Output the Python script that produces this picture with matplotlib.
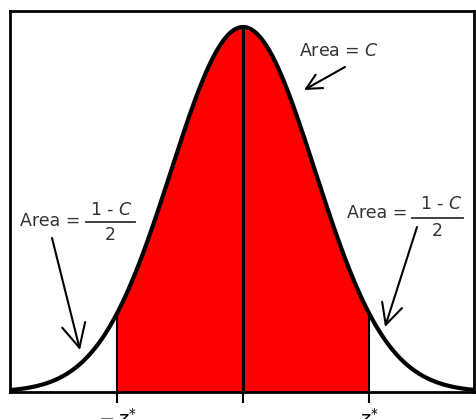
import numpy as np
import matplotlib
matplotlib.use("Agg")
import matplotlib.pyplot as plt

# normal curve parameters
MEAN = 0.0
SD = 1.0
ZSTAR = 1.75
X_RANGE = (-3.24, 3.21)
TICK_POS = [-ZSTAR, 0.0, ZSTAR]
TICK_LABELS = [r"$-\,z^{*}$", "", r"$z^{*}$"]


def pdf(x):
    return np.exp(-0.5 * ((x - MEAN) / SD) ** 2) / (SD * np.sqrt(2 * np.pi))


W, H = 476, 419
fig = plt.figure(figsize=(W / 100, H / 100), dpi=100)
ax = fig.add_axes([10 / W, 27 / H, 464 / W, 381 / H])

z = np.linspace(X_RANGE[0], X_RANGE[1], 800)
zi = np.linspace(-ZSTAR, ZSTAR, 400)

ax.fill_between(zi, 0, pdf(zi), color="#ff0000", lw=0)
ax.plot(z, pdf(z), color="black", lw=3)
ax.vlines([-ZSTAR, ZSTAR], 0, pdf(ZSTAR), color="black", lw=1.5)
ax.vlines(MEAN, 0, pdf(MEAN), color="black", lw=2.2)

ax.set_xlim(*X_RANGE)
ax.set_ylim(0, pdf(MEAN) / 0.958)
for s in ax.spines.values():
    s.set_linewidth(2)
ax.set_yticks([])
ax.set_xticks(TICK_POS)
ax.set_xticklabels(TICK_LABELS)
ax.tick_params(axis="x", direction="out", length=8, width=1.5, pad=3.5, labelsize=14)

txt = dict(fontsize=12.5, color="#333333", xycoords="figure pixels")


def arrow(hl, hw):
    return dict(arrowstyle=f"->,head_length={hl},head_width={hw}", lw=1.5,
                color="black", shrinkA=0, shrinkB=0)


# Area = C
ax.annotate("Area = $C$", xy=(299, H - 51), ha="left", va="center", **txt)
ax.annotate("", xy=(304, H - 90), xytext=(345, H - 67),
            xycoords="figure pixels", arrowprops=arrow(1.1, 0.55))

# left tail
ax.annotate("Area =", xy=(20, H - 221), ha="left", va="center", **txt)
ax.annotate("1 - $C$", xy=(111, H - 210), ha="center", va="center", **txt)
ax.annotate("2", xy=(110, H - 235), ha="center", va="center", **txt)
fig.add_artist(plt.Line2D([86 / W, 135 / W], [(H - 222) / H] * 2, color="#333333", lw=1.3))
ax.annotate("", xy=(80, H - 350), xytext=(52, H - 238),
            xycoords="figure pixels", arrowprops=arrow(1.7, 0.85))

# right tail
ax.annotate("Area =", xy=(347, H - 213), ha="left", va="center", **txt)
ax.annotate("1 - $C$", xy=(441, H - 204), ha="center", va="center", **txt)
ax.annotate("2", xy=(437, H - 231), ha="center", va="center", **txt)
fig.add_artist(plt.Line2D([412 / W, 463 / W], [(H - 218) / H] * 2, color="#333333", lw=1.3))
ax.annotate("", xy=(385, H - 327), xytext=(417, H - 227),
            xycoords="figure pixels", arrowprops=arrow(1.5, 0.75))

fig.savefig("out.png", dpi=100)
